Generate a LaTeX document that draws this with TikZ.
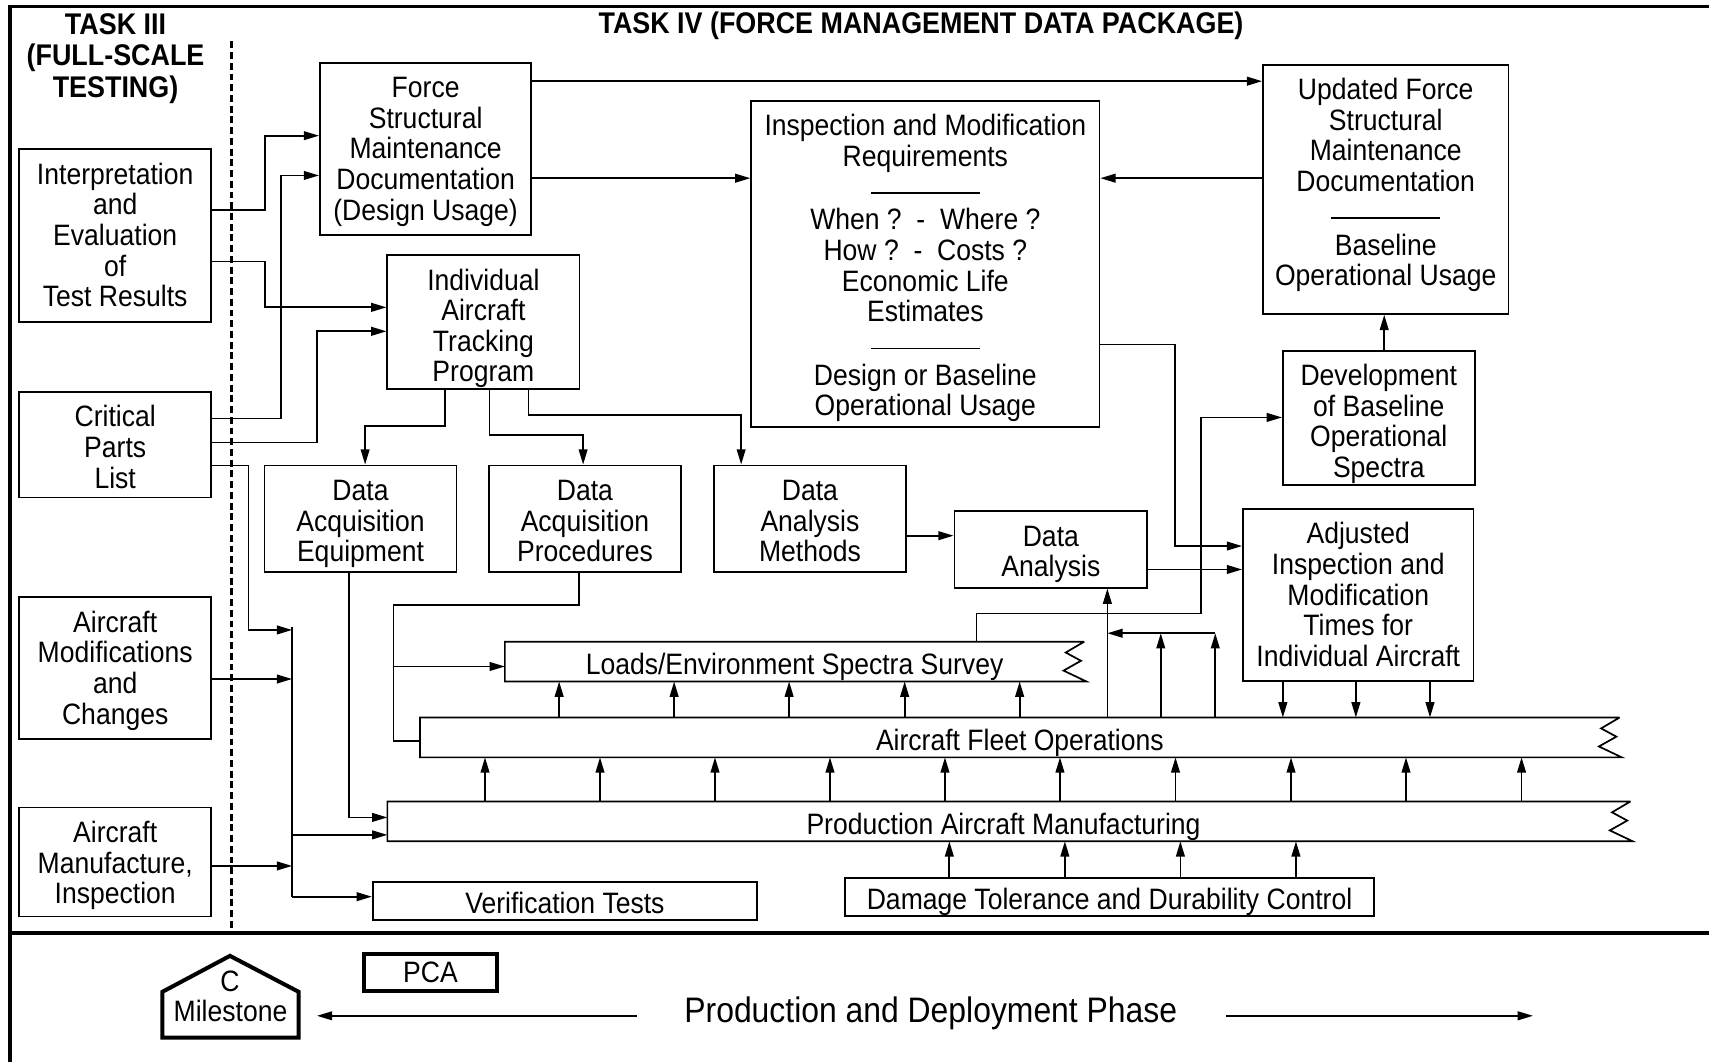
\documentclass[tikz,border=0pt]{standalone}
\usepackage{fontspec}
\setmainfont{Liberation Sans}[FakeStretch=0.9]
\usetikzlibrary{arrows.meta,positioning}

\begin{document}
\begin{tikzpicture}[>={Triangle[length=1.4mm,width=0.8mm]}, line width=0.45pt,
    every node/.style={font=\fontsize{7.7}{8}\selectfont},
    box/.style={draw, align=flush center, inner sep=0pt, text height=0.321cm},
    band/.style={align=center, inner sep=0pt, text height=0.293cm, text depth=0.057cm},
    title/.style={align=center, font=\fontsize{7.8}{8.2}\selectfont\bfseries}]
  \useasboundingbox (0,0) rectangle (15.68,-9.74);

  % Frame
  \draw[line width=0.9pt] (15.68,-0.06) -- (0.09,-0.06) -- (0.09,-9.74);
  \draw[line width=1.1pt] (0.09,-8.56) -- (15.68,-8.56);
  \draw[line width=0.6pt, dash pattern=on 1.8pt off 1pt] (2.124,-0.38) -- (2.124,-8.56);

  % Titles
  \node[title] (task3) at (1.06,-0.535) {TASK III\\(FULL-SCALE\\TESTING)};
  \node[title] (task4) at (8.45,-0.24) {TASK IV (FORCE MANAGEMENT DATA PACKAGE)};

  % Nodes
  \node[box, text width=1.763cm, text depth=1.266cm] (interp) at (1.057,-2.164) {Interpretation\\and\\Evaluation\\of\\Test Results};
  \node[box, text width=1.763cm, text depth=0.648cm] (crit) at (1.057,-4.079) {Critical\\Parts\\List};
  \node[box, text width=1.763cm, text depth=0.979cm] (mods) at (1.057,-6.13) {Aircraft\\Modifications\\and\\Changes};
  \node[box, text width=1.763cm, text depth=0.679cm] (manuf) at (1.057,-7.91) {Aircraft\\Manufacture,\\Inspection};

  \node[box, text width=1.94cm, text depth=1.263cm] (force) at (3.905,-1.367) {Force\\Structural\\Maintenance\\Documentation\\(Design Usage)};
  \node[box, text width=1.763cm, text depth=0.909cm] (iat) at (4.435,-2.955) {Individual\\Aircraft\\Tracking\\Program};
  \node[box, text width=3.195cm, text depth=2.675cm] (insp) at (8.49,-2.422) {Inspection and Modification\\Requirements\\\rule[0.03cm]{1cm}{0.4pt}\\[0.02cm]When ?\ \ -\ \ Where ?\\How ?\ \ -\ \ Costs ?\\Economic Life\\Estimates\\\rule[0.03cm]{1cm}{0.4pt}\\[0.02cm]Design or Baseline\\Operational Usage};
  \node[box, text width=2.252cm, text depth=1.966cm] (updated) at (12.714,-1.737) {Updated Force\\Structural\\Maintenance\\Documentation\\\rule[0.03cm]{1cm}{0.4pt}\\[0.02cm]Baseline\\Operational Usage};
  \node[box, text width=1.76cm, text depth=0.912cm] (dev) at (12.65,-3.834) {Development\\of Baseline\\Operational\\Spectra};

  \node[box, text width=1.763cm, text depth=0.654cm] (dae) at (3.3075,-4.7575) {Data\\Acquisition\\Equipment};
  \node[box, text width=1.766cm, text depth=0.654cm, right=0.279cm of dae] (dap) {Data\\Acquisition\\Procedures};
  \node[box, text width=1.761cm, text depth=0.654cm, right=0.285cm of dap] (dam) {Data\\Analysis\\Methods};
  \node[box, text width=1.769cm, text depth=0.381cm] (da) at (9.6415,-5.041) {Data\\Analysis};
  \node[box, text width=2.116cm, text depth=1.259cm] (adj) at (12.462,-5.46) {Adjusted\\Inspection and\\Modification\\Times for\\Individual Aircraft};

  \node[band, minimum width=5.30cm] (loads) at (7.29,-6.07) {Loads/Environment Spectra Survey};
  \node[band, minimum width=10.99cm] (fleet) at (9.357,-6.766) {Aircraft Fleet Operations};
  \node[band, minimum width=11.39cm] (prod) at (9.257,-7.536) {Production Aircraft Manufacturing\kern0.1cm};
  \node[band, draw, minimum width=3.526cm] (verif) at (5.183,-8.265) {Verification Tests};
  \node[band, draw, minimum width=4.853cm] (damage) at (10.18,-8.228) {Damage Tolerance and Durability Control};

  % Open (torn) right ends of the long bands
  \foreach \n in {loads,fleet,prod}
    \draw (\n.north east) -- (\n.north west) -- (\n.south west) -- ([xshift=0.02cm]\n.south east)
      -- ([xshift=-0.19cm,yshift=0.10cm]\n.south east) -- ([xshift=-0.03cm,yshift=0.19cm]\n.south east)
      -- ([xshift=-0.17cm,yshift=-0.10cm]\n.north east) -- (\n.north east);

  \coordinate (bustop) at (2.68,-5.75);
  \coordinate (busbot) at (2.68,-8.227);
  \coordinate (merge) at (11.15,-5.81);
  \coordinate (split) at (3.61,-6.115);

  % Edges
  \draw (bustop) -- (busbot);
  \draw[->] (interp.east |- 0,-1.93) -| (2.43,-1.245) -- (force.west |- 0,-1.245);
  \draw[->] (interp.east |- 0,-2.40) -| (2.43,-2.82) -- (iat.west |- 0,-2.82);
  \draw[->] (crit.east |- 0,-3.84) -| (2.58,-1.61) -- (force.west |- 0,-1.61);
  \draw[->] (crit.east |- 0,-4.06) -| (2.91,-3.04) -- (iat.west |- 0,-3.04);
  \draw[->] (crit.east |- 0,-4.27) -| (2.28,-5.78) -- (bustop |- 0,-5.78);
  \draw[->] (mods.east |- 0,-6.23) -- (bustop |- 0,-6.23);
  \draw[->] (manuf.east |- 0,-7.945) -- (bustop |- 0,-7.945);
  \draw[->] (bustop |- 0,-7.66) -- (prod.west |- 0,-7.66);
  \draw[->] (busbot) -- (verif.west |- busbot);

  \draw[->] (force.east |- 0,-0.745) -- (updated.west |- 0,-0.745);
  \draw[->] (force.east |- 0,-1.635) -- (insp.west |- 0,-1.635);
  \draw[->] (updated.west |- 0,-1.635) -- (insp.east |- 0,-1.635);
  \draw[->] (dev.north -| 12.70,0) -- (updated.south -| 12.70,0);

  \draw[->] (iat.south -| 4.08,0) |- (3.35,-3.91) -- (dae.north -| 3.35,0);
  \draw[->] (iat.south -| 4.49,0) |- (5.35,-3.99) -- (dap.north -| 5.35,0);
  \draw[->] (iat.south -| 4.85,0) |- (6.80,-3.81) -- (dam.north -| 6.80,0);
  \draw[->] (dam.east |- 0,-4.915) -- (da.west |- 0,-4.915);
  \draw[->] (da.east |- 0,-5.225) -- (adj.west |- 0,-5.225);
  \draw[->] (insp.east |- 0,-3.16) -| (10.78,-5.01) -- (adj.west |- 0,-5.01);
  \draw[->] (loads.north -| 8.96,0) |- (11.02,-5.63) |- (dev.west |- 0,-3.83);

  \draw[->] (fleet.north -| 10.16,0) -- (da.south -| 10.16,0);
  \foreach \x in {10.65,11.15}
    \draw[->] (fleet.north -| \x,0) -- (merge -| \x,0);
  \draw[->] (merge) -- (merge -| 10.16,0);
  \foreach \x in {11.77,12.44,13.12}
    \draw[->] (adj.south -| \x,0) -- (fleet.north -| \x,0);
  \foreach \x in {5.13,6.185,7.24,8.30,9.355}
    \draw[->] (fleet.north -| \x,0) -- (loads.south -| \x,0);
  \foreach \x in {4.45,5.505,6.56,7.615,8.67,9.725,10.785,11.845,12.90,13.96}
    \draw[->] (prod.north -| \x,0) -- (fleet.south -| \x,0);
  \foreach \x in {8.71,9.77,10.83,11.89}
    \draw[->] (damage.north -| \x,0) -- (prod.south -| \x,0);

  \draw[->] (dae.south -| 3.20,0) |- (prod.west |- 0,-7.50);
  \draw (dap.south -| 5.31,0) |- (3.61,-5.55) |- (fleet.west |- 0,-6.80);
  \draw[->] (split) -- (loads.west |- split);

  % Phase strip
  \draw[line width=1.05pt] (1.49,-9.52) -- (1.49,-9.10) -- (2.11,-8.77) -- (2.74,-9.10) -- (2.74,-9.52) -- cycle;
  \node (ms) at (2.11,-9.006) {C};
  \node[minimum width=1.25cm, inner sep=0pt] (mile) at (2.115,-9.28) {Milestone};
  \node[draw, line width=1.05pt, minimum width=1.226cm, minimum height=0.34cm, inner sep=0pt] (pca) at (3.95,-8.92) {PCA};
  \node[font=\fontsize{9.25}{11}\selectfont] (phase) at (8.54,-9.30) {Production and Deployment Phase};
  \coordinate (ltail) at (5.84,-9.32);
  \coordinate (rtail) at (11.25,-9.32);
  \coordinate (rhead) at (14.065,-9.32);
  \draw[->, shorten >=0.16cm] (ltail) -- (ltail -| mile.east);
  \draw[->] (rtail) -- (rhead);
\end{tikzpicture}
\end{document}
